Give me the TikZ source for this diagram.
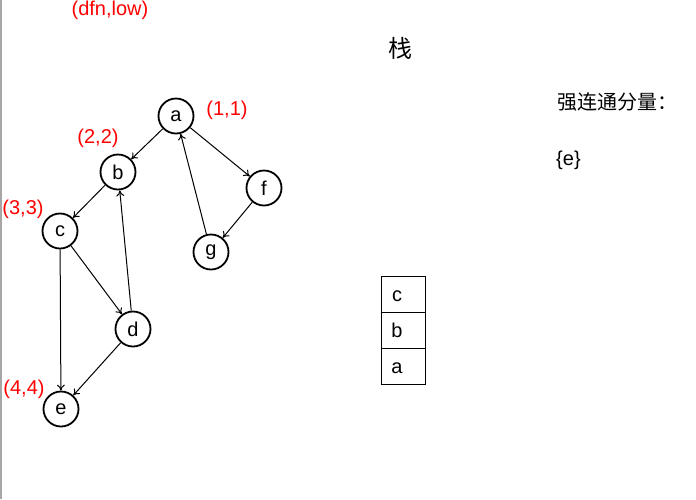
\documentclass[tikz,border=0pt]{standalone}
\usepackage{fontspec}
\setmainfont{Liberation Sans}
\newfontfamily\cjk{Noto Sans CJK SC}
\usetikzlibrary{arrows.meta}
\begin{document}
\begin{tikzpicture}[x=1pt,y=-1pt,
  vert/.style={circle,draw,line width=1.8pt,minimum size=35pt,inner sep=0pt,font=\fontsize{20}{20}\selectfont},
  lab/.style={text=red,font=\fontsize{20}{20}\selectfont,inner sep=0pt},
  edge/.style={draw,line width=1pt,-{To[length=6pt,width=8pt]}},
  cell/.style={draw,line width=1pt,minimum width=44pt,minimum height=36pt,inner sep=0pt},
  celltext/.style={font=\fontsize{20}{20}\selectfont,inner sep=0pt}]
\useasboundingbox (0,0) rectangle (696,499);
\draw[gray!70,line width=1.5pt] (0.8,0) -- (0.8,499);
\node[vert] (a) at (176,116) {a};
\node[vert] (b) at (118,172) {b};
\node[vert] (c) at (60,231) {c};
\node[vert] (d) at (133,329) {d};
\node[vert] (e) at (61,409) {e};
\node[vert] (f) at (264,188) {f};
\node[vert] (g) at (211,252) {g};
\draw[edge] (a) -- (b);
\draw[edge] (a) -- (f);
\draw[edge] (f) -- (g);
\draw[edge] (g) -- (a);
\draw[edge] (b) -- (c);
\draw[edge] (c) -- (d);
\draw[edge] (d) -- (b);
\draw[edge] (c) -- (e);
\draw[edge] (d) -- (e);
\node[lab] (hdr) at (110,10) {(dfn,low)};
\node[lab] (la) at (227,110) {(1,1)};
\node[lab] (lb) at (98,138) {(2,2)};
\node[lab] (lc) at (23,209) {(3,3)};
\node[lab] (le) at (24,389) {(4,4)};
\node[font=\cjk\fontsize{24}{24}\selectfont] (stk) at (400,48) {栈};
\node[font=\cjk\fontsize{20}{20}\selectfont,anchor=west,inner sep=0pt] (scc) at (557,102) {强连通分量：};
\node[font=\fontsize{20}{20}\selectfont,anchor=west,inner sep=0pt] (set) at (556,160) {\{e\}};
\node[cell] (sc) at (403,294) {};
\node[cell] (sb) at (403,330) {};
\node[cell] (sa) at (403,366) {};
\node[celltext] (tc) at (397,296) {c};
\node[celltext] (tb) at (397,330) {b};
\node[celltext] (ta) at (397,368) {a};
\draw[line width=1.6pt] (sc.south west) -- (sc.south east);
\draw[line width=1.6pt] (sb.south west) -- (sb.south east);
\end{tikzpicture}
\end{document}
